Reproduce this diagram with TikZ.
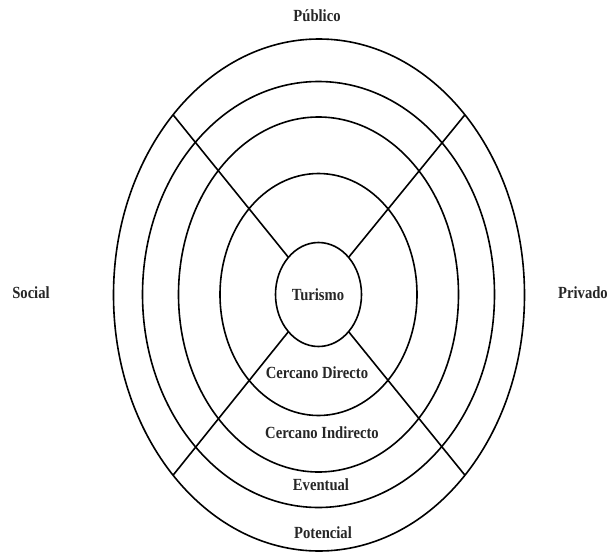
\documentclass[tikz,border=0pt]{standalone}
\usepackage{fontspec}
\setmainfont{Liberation Serif}
\usepackage{graphicx}
\usetikzlibrary{shapes.geometric}
\newcommand\mylbl[1]{\scalebox{0.86}[1]{#1}}
\begin{document}
\begin{tikzpicture}[x=1pt,y=-1pt,
  ring/.style={ellipse,draw,line width=1.6pt,inner sep=0pt,outer sep=0pt},
  txt/.style={font=\fontsize{17}{20}\selectfont\bfseries,inner sep=0pt,text=black!85},
  spoke/.style={line width=1.6pt}]
\useasboundingbox (0,0) rectangle (611,557);
\node[ring,minimum width=411pt,minimum height=512pt] (e4) at (319,295) {};
\node[ring,minimum width=352pt,minimum height=426pt] (e3) at (318.5,294.5) {};
\node[ring,minimum width=280pt,minimum height=355pt] (e2) at (318.5,294.5) {};
\node[ring,minimum width=197pt,minimum height=242pt] (e1) at (318.5,294.5) {};
\node[ring,minimum width=86pt,minimum height=104pt] (e0) at (318.5,294.5) {};
\draw[spoke] (e0.51) -- (e4.51);
\draw[spoke] (e0.129) -- (e4.129);
\draw[spoke] (e0.-51) -- (e4.-51);
\draw[spoke] (e0.-129) -- (e4.-129);
\node[txt] (tur) at (318,295) {\mylbl{Turismo}};
\node[txt] (cd) at (317,373) {\mylbl{Cercano Directo}};
\node[txt] (ci) at (322,433) {\mylbl{Cercano Indirecto}};
\node[txt] (ev) at (321,485) {\mylbl{Eventual}};
\node[txt] (po) at (323,533) {\mylbl{Potencial}};
\node[txt] (pu) at (317,16) {\mylbl{Público}};
\node[txt] (so) at (31,293) {\mylbl{Social}};
\node[txt] (pr) at (583,293) {\mylbl{Privado}};
\end{tikzpicture}
\end{document}
